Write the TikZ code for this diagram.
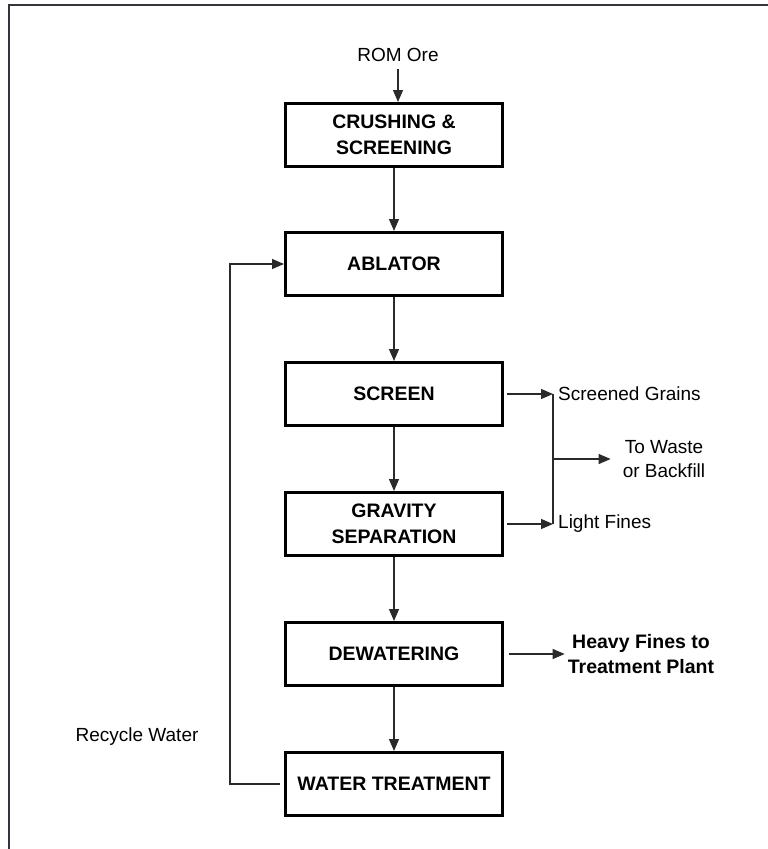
\documentclass[tikz,border=0pt]{standalone}
\usepackage{fontspec}
\setmainfont{Liberation Sans}
\usetikzlibrary{arrows.meta,calc}
\definecolor{framec}{HTML}{34343F}
\definecolor{linec}{HTML}{2A2A2A}
\begin{document}
\begin{tikzpicture}[x=1pt,y=-1pt,
  procbox/.style={draw=black,line width=3pt,minimum width=217pt,minimum height=63pt,
    align=center,font=\fontsize{19.5}{26}\selectfont\bfseries,inner sep=2pt},
  lbl/.style={font=\fontsize{19}{24}\selectfont,inner sep=3pt},
  conn/.style={draw=linec,line width=1.2pt},
  arr/.style={conn,-{Triangle[length=12pt,width=10pt]}}]
\useasboundingbox (0,0) rectangle (768,849);
\draw[framec,line width=2.5pt] (9,849) -- (9,5) -- (768,5);

\node[lbl] (rom) at (398,55) {ROM Ore};
\node[procbox] (crush) at (394,135) {CRUSHING \&\\SCREENING};
\node[procbox] (ablator) at (394,264) {ABLATOR};
\node[procbox] (screen) at (394,394) {SCREEN};
\node[procbox] (gravity) at (394,524) {GRAVITY\\SEPARATION};
\node[procbox] (dewater) at (394,654) {DEWATERING};
\node[procbox] (water) at (394,784) {WATER TREATMENT};

\node[lbl,anchor=west,inner sep=0pt] (sgt) at (553,394) {\hspace{5pt}Screened Grains};
\node[lbl,anchor=west,inner sep=0pt] (lft) at (553,524) {\hspace{5pt}Light Fines};
\node[lbl,align=center,inner xsep=12pt] (waste) at (664,459) {To Waste\\or Backfill};
\node[lbl,align=center,font=\fontsize{19.5}{25}\selectfont\bfseries] (heavy) at (641,654) {Heavy Fines to\\Treatment Plant};
\node[lbl] (recy) at (137,737) {Recycle Water};

\coordinate (rc) at (230,264);
\coordinate (mid) at ($(sgt.west)!0.5!(lft.west)$);

\draw[arr] ([yshift=-4pt]rom.south) -- (rom.south |- crush.north);
\draw[arr] (crush) -- (ablator);
\draw[arr] (ablator) -- (screen);
\draw[arr] (screen) -- (gravity);
\draw[arr] (gravity) -- (dewater);
\draw[arr] (dewater) -- (water);

\draw[arr] ([xshift=-4pt]water.west) -| (rc) -- (ablator.west);
\draw[arr] ([xshift=3pt]screen.east) -- (sgt.west);
\draw[arr] ([xshift=3pt]gravity.east) -- (lft.west);
\draw[conn] (sgt.west) -- (lft.west);
\draw[arr] (mid) -- (mid -| waste.west);
\draw[arr] ([xshift=5pt]dewater.east) -- (heavy.west);
\end{tikzpicture}
\end{document}
